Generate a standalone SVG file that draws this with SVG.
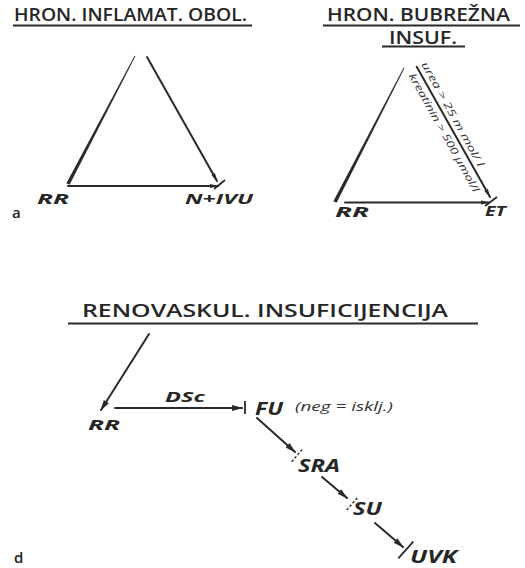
<svg xmlns="http://www.w3.org/2000/svg" width="525" height="568" viewBox="0 0 525 568">
<defs>
<style>
.title{font-family:"Open Sans","Liberation Sans",sans-serif;font-weight:600;fill:#262626;font-size:18px}
.lbl{font-family:"Open Sans","Liberation Sans",sans-serif;font-style:italic;font-weight:700;fill:#262626}
.small{font-family:"Open Sans","Liberation Sans",sans-serif;font-style:italic;font-weight:500;fill:#333}
.panel{font-family:"Open Sans","Liberation Sans",sans-serif;font-weight:600;fill:#222;font-size:15px}
.ln{stroke:#2a2a2a;stroke-width:2;fill:none;stroke-linecap:round}
.ul{stroke:#2a2a2a;stroke-width:2;fill:none}
.tick{stroke:#2a2a2a;stroke-width:1.8;fill:none}
.dtick{stroke:#2a2a2a;stroke-width:1.4;fill:none;stroke-dasharray:2.5 2}
.taper{fill:#2a2a2a}
</style>
<marker id="ah" markerWidth="11" markerHeight="7" refX="10" refY="3.5" orient="auto" markerUnits="userSpaceOnUse">
<path d="M0,0.5 L11,3.5 L0,6.5 Z" fill="#2a2a2a"/>
</marker>
<marker id="ahs" markerWidth="9" markerHeight="5" refX="8" refY="2.5" orient="auto" markerUnits="userSpaceOnUse">
<path d="M0,0.5 L9,2.5 L0,4.5 Z" fill="#2a2a2a"/>
</marker>
</defs>
<rect width="525" height="568" fill="#ffffff"/>

<!-- Panel labels and titles -->
<g id="panel-a-label"><text class="panel" x="12" y="218">a</text></g>
<g id="panel-d-label"><text class="panel" x="14" y="563">d</text></g>

<g id="title-inflam">
<text class="title" x="14" y="21" textLength="233" lengthAdjust="spacingAndGlyphs">HRON. INFLAMAT. OBOL.</text>
<line class="ul" x1="13" y1="25.5" x2="252" y2="25.5"/>
</g>
<g id="title-bubrezna">
<text class="title" x="327" y="20.5" textLength="183" lengthAdjust="spacingAndGlyphs">HRON. BUBREŽNA</text>
<line class="ul" x1="323" y1="25.5" x2="520" y2="25.5"/>
<text class="title" x="389" y="43.5" font-size="16" textLength="68" lengthAdjust="spacingAndGlyphs">INSUF.</text>
<line class="ul" x1="382" y1="46.5" x2="465" y2="46.5"/>
</g>
<g id="title-renovask">
<text class="title" x="82" y="317" font-size="19" textLength="366" lengthAdjust="spacingAndGlyphs">RENOVASKUL. INSUFICIJENCIJA</text>
<line class="ul" x1="68" y1="323.5" x2="478" y2="323.5"/>
</g>

<!-- Nodes panel a (left) -->
<g id="rr-a1"><text class="lbl" x="37" y="204" font-size="15" textLength="32" lengthAdjust="spacingAndGlyphs">RR</text></g>
<g id="nivu"><text class="lbl" x="185" y="204" font-size="15" textLength="68" lengthAdjust="spacingAndGlyphs">N+IVU</text></g>

<!-- Nodes panel a (right) -->
<g id="rr-a2"><text class="lbl" x="335" y="217" font-size="15" textLength="34" lengthAdjust="spacingAndGlyphs">RR</text></g>
<g id="et"><text class="lbl" x="485" y="216" font-size="15" textLength="21" lengthAdjust="spacingAndGlyphs">ET</text></g>
<g id="urea-label">
<text class="small" font-size="10" transform="translate(421.1,64.3) rotate(61)" textLength="118" lengthAdjust="spacingAndGlyphs">urea &gt; 25 m mol/ l</text>
<text class="small" font-size="10" transform="translate(408.6,75.8) rotate(61)" textLength="134" lengthAdjust="spacingAndGlyphs">kreatinin &gt; 500 μmol/l</text>
</g>

<!-- Nodes panel d -->
<g id="rr-d"><text class="lbl" x="88" y="430" font-size="15" textLength="32" lengthAdjust="spacingAndGlyphs">RR</text></g>
<g id="dsc"><text class="lbl" x="165" y="402" font-size="14" textLength="40" lengthAdjust="spacingAndGlyphs">DSc</text></g>
<g id="fu">
<text class="lbl" x="255" y="415" font-size="17" textLength="28" lengthAdjust="spacingAndGlyphs">FU</text>
<text class="small" x="295" y="411" font-size="12" textLength="98" lengthAdjust="spacingAndGlyphs">(neg = isklj.)</text>
</g>
<g id="sra"><text class="lbl" x="298" y="472" font-size="18" textLength="42" lengthAdjust="spacingAndGlyphs">SRA</text></g>
<g id="su"><text class="lbl" x="353" y="515" font-size="17" textLength="29" lengthAdjust="spacingAndGlyphs">SU</text></g>
<g id="uvk"><text class="lbl" x="410" y="563" font-size="17" textLength="47" lengthAdjust="spacingAndGlyphs">UVK</text></g>

<!-- Connectors -->
<g id="connectors">
<!-- panel a left triangle -->
<polygon class="taper" points="134.6,55.8 135.4,56.2 69.6,184.8 66.4,183.2"/>
<line class="ln" x1="147" y1="57" x2="217" y2="181" marker-end="url(#ahs)"/>
<line class="ln" x1="68" y1="186" x2="218" y2="186" marker-end="url(#ahs)"/>
<line class="tick" x1="214" y1="189" x2="225" y2="180"/>
<!-- panel a right triangle -->
<polygon class="taper" points="403.6,67.8 404.4,68.2 336.6,202.8 333.4,201.2"/>
<line class="ln" x1="416.7" y1="66.7" x2="490" y2="197" marker-end="url(#ahs)"/>
<line class="ln" x1="345" y1="202.5" x2="489" y2="202.5" marker-end="url(#ahs)"/>
<line class="tick" x1="485" y1="206" x2="497" y2="197"/>
<!-- panel d -->
<line class="ln" x1="149" y1="334" x2="101" y2="410" stroke-width="1.6" marker-end="url(#ah)"/>
<line class="ln" x1="115" y1="408" x2="242" y2="408" marker-end="url(#ah)"/>
<line class="tick" x1="245" y1="401" x2="245" y2="414"/>
<line class="ln" x1="257" y1="418" x2="295" y2="452" stroke-width="2.4" marker-end="url(#ah)"/>
<line class="dtick" x1="291.7" y1="461.7" x2="303.3" y2="448.3"/>
<line class="ln" x1="322" y1="477" x2="347" y2="498" stroke-width="2.2" marker-end="url(#ah)"/>
<line class="dtick" x1="346.7" y1="510" x2="358.3" y2="496.7"/>
<line class="ln" x1="375" y1="523" x2="403" y2="547" stroke-width="2.2" marker-end="url(#ah)"/>
<line class="tick" x1="398.3" y1="558.3" x2="413.3" y2="541.7"/>
</g>
</svg>
